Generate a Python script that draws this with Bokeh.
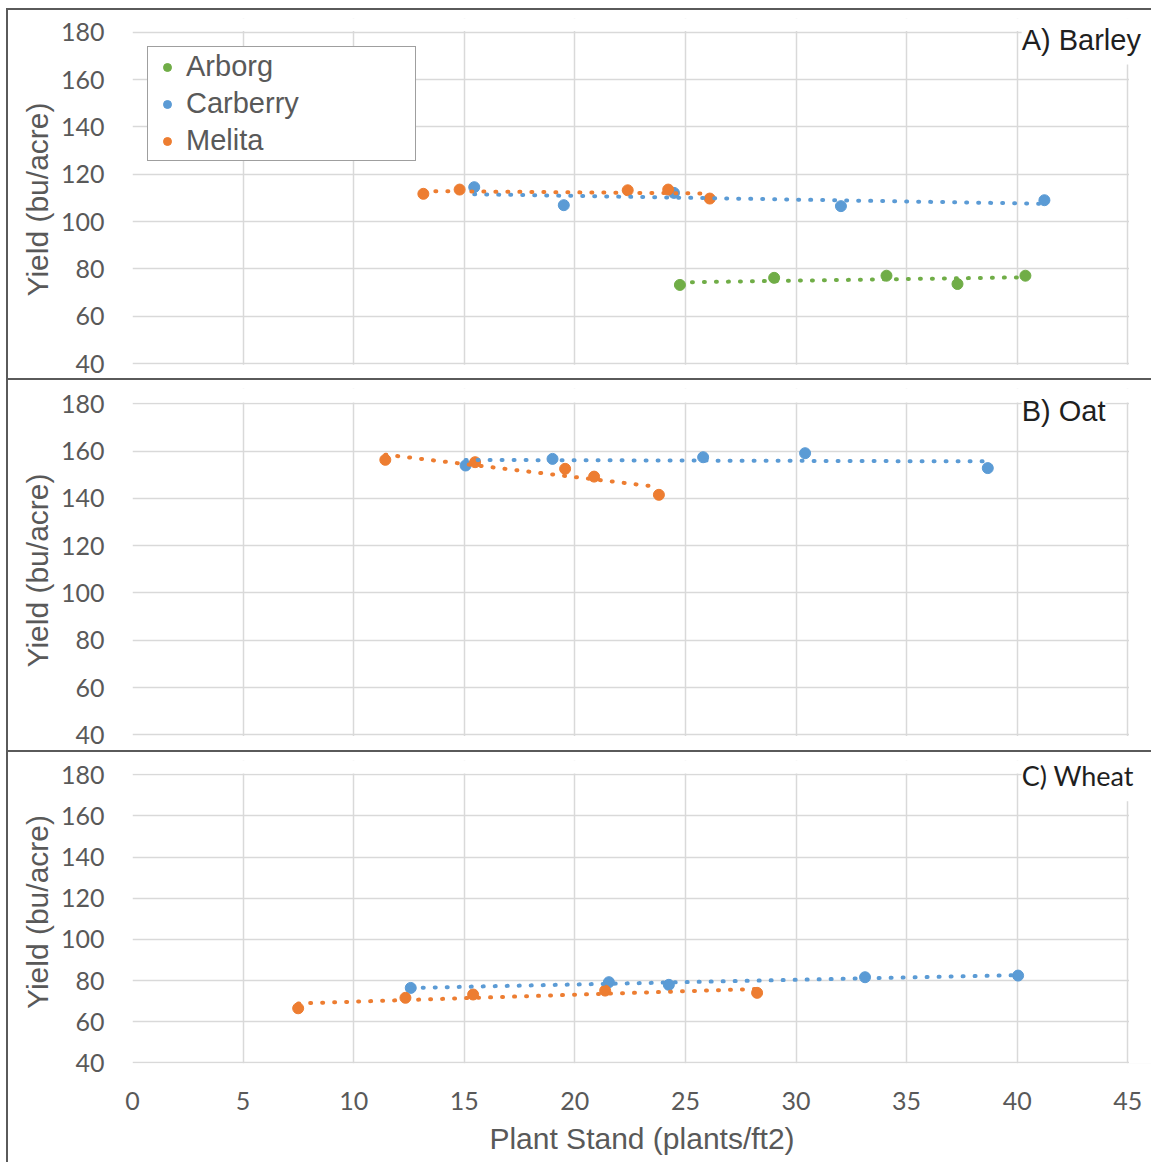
import numpy as np
from bokeh.plotting import figure
from bokeh.models import Legend, LegendItem, Label, FixedTicker, Range1d, BoxAnnotation
from bokeh.layouts import column
from bokeh.embed import file_html
from bokeh.resources import INLINE

# ---------------- data ----------------
x_ticks = [0, 5, 10, 15, 20, 25, 30, 35, 40, 45]
y_ticks = [40, 60, 80, 100, 120, 140, 160, 180]
x_title = "Plant Stand (plants/ft2)"
y_title = "Yield (bu/acre)"
site_names = ["Arborg", "Carberry", "Melita"]
site_colors = ["#70AD47", "#5B9BD5", "#ED7D31"]
panel_titles = ["A) Barley", "B) Oat", "C) Wheat"]

barley_arborg_x = [24.75, 29.01, 34.09, 37.30, 40.37]
barley_arborg_y = [73.2, 76.2, 77.1, 73.6, 77.1]
barley_carberry_x = [15.45, 19.50, 24.48, 32.03, 41.23]
barley_carberry_y = [114.5, 106.9, 112.1, 106.5, 109.0]
barley_melita_x = [13.15, 14.79, 22.39, 24.22, 26.10]
barley_melita_y = [111.7, 113.5, 113.2, 113.5, 109.7]

oat_carberry_x = [15.06, 18.99, 25.80, 30.41, 38.67]
oat_carberry_y = [153.9, 156.7, 157.4, 159.1, 152.8]
oat_melita_x = [11.43, 15.49, 19.56, 20.87, 23.80]
oat_melita_y = [156.3, 155.3, 152.5, 149.2, 141.5]

wheat_carberry_x = [12.58, 21.54, 24.25, 33.12, 40.04]
wheat_carberry_y = [76.4, 79.2, 77.9, 81.6, 82.4]
wheat_melita_x = [7.49, 12.34, 15.40, 21.37, 28.24]
wheat_melita_y = [66.5, 71.6, 73.2, 75.1, 74.0]

GRID = "#d9d9d9"
TXT = "#595959"
BORDER = "#5a5a5a"
Y_LO, Y_HI = 40, 180
X_LO, X_HI = 0, 45

# layout constants (pixels, relative to each canvas)
CANVAS_W = 1145
FRAME_L = 124          # frame left inside canvas
FRAME_R_PAD = 2        # space right of frame
PX_X0, PX_X45 = 124, 1119.3   # where x=0 and x=45 should fall (canvas px)


def make_panel(canvas_h, b_top, b_bottom, px_hi, px_lo, show_x, series, title, title_y,
               title_font, title_size, legend=False):
    frame_top = b_top
    frame_bot = canvas_h - b_bottom
    ys = (px_lo - px_hi) / (Y_HI - Y_LO)
    y_end = Y_HI + (px_hi - frame_top) / ys
    y_start = Y_LO - (frame_bot - px_lo) / ys
    xs_ = (PX_X45 - PX_X0) / (X_HI - X_LO)
    x_start = X_LO - (PX_X0 - FRAME_L) / xs_
    x_end = X_HI + ((CANVAS_W - FRAME_R_PAD) - PX_X45) / xs_

    p = figure(width=CANVAS_W, height=canvas_h,
               x_range=Range1d(x_start, x_end), y_range=Range1d(y_start, y_end),
               output_backend="svg", toolbar_location=None, tools="",
               min_border_left=FRAME_L, min_border_right=FRAME_R_PAD,
               min_border_top=b_top, min_border_bottom=b_bottom,
               background_fill_color="white", border_fill_color="white",
               styles={"border-top": "2px solid " + BORDER, "border-left": "2px solid " + BORDER})
    p.outline_line_color = None
    p.xgrid.ticker = FixedTicker(ticks=x_ticks)
    p.ygrid.ticker = FixedTicker(ticks=y_ticks)
    for g in (p.xgrid, p.ygrid):
        g.grid_line_color = GRID
        g.grid_line_width = 1.5

    ya = p.yaxis[0]
    ya.ticker = FixedTicker(ticks=y_ticks)
    ya.axis_line_color = None
    ya.major_tick_line_color = None
    ya.minor_tick_line_color = None
    ya.major_tick_out = 0
    ya.major_tick_in = 0
    ya.major_label_text_font = "Lato"
    ya.major_label_text_font_size = "25px"
    ya.major_label_text_color = TXT
    ya.major_label_standoff = 28
    ya.axis_label = y_title
    ya.axis_label_text_font = "Liberation Sans"
    ya.axis_label_text_font_size = "30px"
    ya.axis_label_text_font_style = "normal"
    ya.axis_label_text_color = TXT
    ya.axis_label_standoff = 4

    xa = p.xaxis[0]
    if show_x:
        xa.ticker = FixedTicker(ticks=x_ticks)
        xa.axis_line_color = None
        xa.major_tick_line_color = None
        xa.minor_tick_line_color = None
        xa.major_tick_out = 0
        xa.major_tick_in = 0
        xa.major_label_text_font = "Lato"
        xa.major_label_text_font_size = "25px"
        xa.major_label_text_color = TXT
        xa.major_label_standoff = 28
        xa.axis_label = x_title
        xa.axis_label_text_font = "Liberation Sans"
        xa.axis_label_text_font_size = "30px"
        xa.axis_label_text_font_style = "normal"
        xa.axis_label_text_color = TXT
        xa.axis_label_standoff = 9
    else:
        xa.visible = False

    renderers = {}
    for name, xs, ys_ in series:
        color = site_colors[site_names.index(name)]
        r = p.scatter(xs, ys_, size=11, fill_color=color, line_color=color)
        renderers[name] = r
    for name, xs, ys_ in series:
        color = site_colors[site_names.index(name)]
        slope, icpt = np.polyfit(xs, ys_, 1)
        xt = [min(xs), max(xs)]
        yt = [slope * v + icpt for v in xt]
        p.line(xt, yt, line_color=color, line_width=4, line_dash="1 11", line_cap="round")

    # white-out the frame outside the 0-45 / 40-180 plot area
    ex, ey = 1.2 / xs_, 1.2 / ys
    mask = dict(fill_color="white", fill_alpha=1.0, line_color=None)
    p.add_layout(BoxAnnotation(left=X_HI + ex, **mask))
    p.add_layout(BoxAnnotation(bottom=Y_HI + ey, **mask))
    p.add_layout(BoxAnnotation(top=Y_LO - ey, **mask))

    lab_kw = dict(x=40.2, y=title_y, text=title, text_font=title_font,
                  text_font_size=title_size, text_color="#1f1f1f", text_baseline="middle",
                  text_align="left", background_fill_color="white", background_fill_alpha=1.0)
    try:
        lab = Label(padding=(0, 9), **lab_kw)
    except Exception:
        try:
            lab = Label(padding=4, **lab_kw)
        except Exception:
            lab = Label(**lab_kw)
    p.add_layout(lab)

    if legend:
        items = [LegendItem(label=n, renderers=[renderers[n]]) for n in site_names if n in renderers]
        # legend box bottom-left corner relative to the frame's bottom-left
        lg = Legend(items=items, location=(15, frame_bot - (161 - 10)), padding=3, spacing=4,
                    glyph_width=32, glyph_height=20, label_standoff=3, label_width=226,
                    label_height=20, label_text_font="Liberation Sans", label_text_font_size="29px",
                    label_text_color=TXT, border_line_color="#404040", border_line_width=1.5,
                    background_fill_color="white", background_fill_alpha=1.0)
        p.add_layout(lg)
    return p


pA = make_panel(370, 8, 0, 21.7, 353.0, False,
                [("Arborg", barley_arborg_x, barley_arborg_y),
                 ("Carberry", barley_carberry_x, barley_carberry_y),
                 ("Melita", barley_melita_x, barley_melita_y)],
                panel_titles[0], 176.9, "Liberation Sans", "29px", legend=True)
pB = make_panel(372, 8, 0, 23.3, 354.3, False,
                [("Carberry", oat_carberry_x, oat_carberry_y),
                 ("Melita", oat_melita_x, oat_melita_y)],
                panel_titles[1], 176.9, "Liberation Sans", "29px")
pC = make_panel(412, 8, 101, 22.3, 310.3, True,
                [("Carberry", wheat_carberry_x, wheat_carberry_y),
                 ("Melita", wheat_melita_x, wheat_melita_y)],
                panel_titles[2], 179.5, "Lato", "27px")

layout = column(pA, pB, pC, spacing=0, styles={"margin-left": "6px", "margin-top": "8px"})
open("out.html", "w").write(file_html(layout, INLINE))
